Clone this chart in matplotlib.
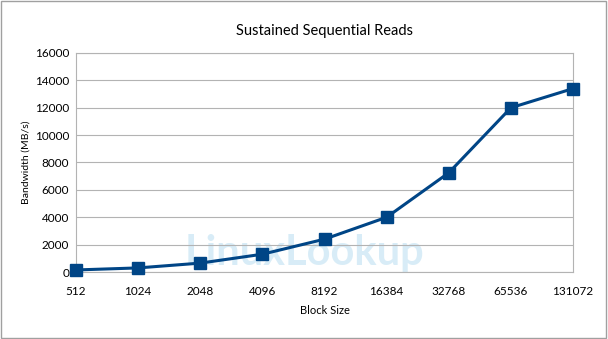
import matplotlib
matplotlib.use("Agg")
import matplotlib.pyplot as plt
from matplotlib.patches import Rectangle

block_sizes = ["512", "1024", "2048", "4096", "8192", "16384", "32768", "65536", "131072"]
bandwidth = [150, 300, 650, 1300, 2400, 4000, 7250, 12000, 13400]
y_ticks = [0, 2000, 4000, 6000, 8000, 10000, 12000, 14000, 16000]

plt.rcParams["font.family"] = ["Lato", "DejaVu Sans"]

fig = plt.figure(figsize=(6.08, 3.39), dpi=100)
fig.patches.append(Rectangle((0.002, 0.004), 0.994, 0.992, transform=fig.transFigure,
                             fill=False, edgecolor="#a0a0a0", linewidth=1))
ax = fig.add_axes([0.125, 0.1976, 0.8175, 0.6461])
ax.set_zorder(1)

x = list(range(len(block_sizes)))

# faint watermark behind the data, kept clear of the tick labels
fig.text(0.50, 0.255, "LinuxLookup", fontsize=30, fontweight="bold", color="#cfe8f5",
         ha="center", va="center", zorder=0, alpha=0.8)

ax.plot(x, bandwidth, color="#004586", linewidth=2.2, marker="s", markersize=8,
        clip_on=False, zorder=3)

ax.set_xlim(0, len(block_sizes) - 1)
ax.set_ylim(0, 16000)
ax.set_xticks(x)
ax.set_xticklabels(block_sizes)
ax.set_yticks(y_ticks)
ax.yaxis.grid(True, color="#b3b3b3", linewidth=0.8)
ax.set_axisbelow(True)
ax.tick_params(length=0, labelsize=8.5, colors="#000000")
ax.tick_params(axis="x", pad=10)
ax.tick_params(axis="y", pad=5)
for s in ax.spines.values():
    s.set_color("#b3b3b3")
    s.set_linewidth(0.8)
ax.set_facecolor("none")

ax.set_title("Sustained Sequential Reads", fontsize=10.5, pad=13)
ax.set_xlabel("Block Size", fontsize=8, labelpad=6)
ax.set_ylabel("Bandwidth (MB/s)", fontsize=7.5, labelpad=3)

fig.savefig("out.png", dpi=100)
